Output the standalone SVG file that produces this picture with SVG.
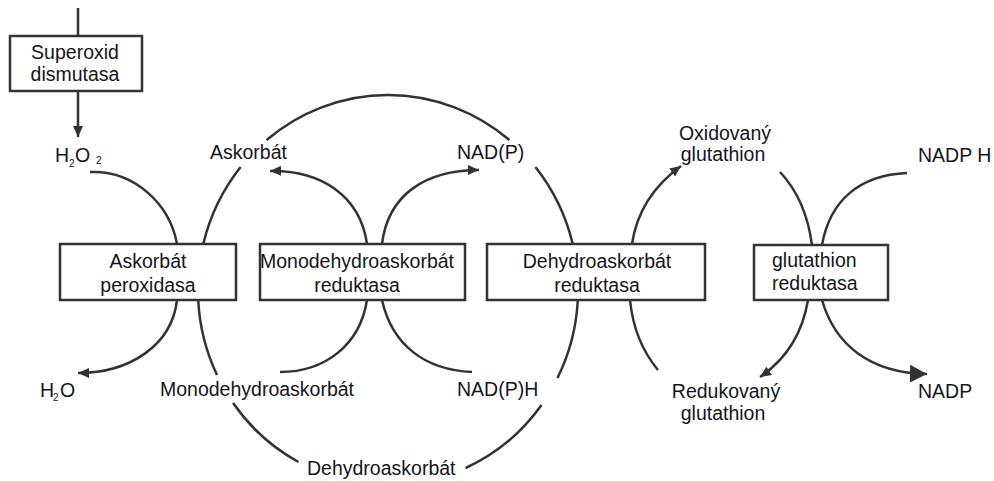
<svg xmlns="http://www.w3.org/2000/svg" width="994" height="481" viewBox="0 0 994 481">
<defs>
<style>
.box{fill:#fff;stroke:#333;stroke-width:2.5}
.ln{fill:none;stroke:#333;stroke-width:2.5}
text{font-family:"Liberation Sans",Arial,sans-serif;font-size:19.5px;fill:#151520}
.c{text-anchor:middle}
.sub{font-size:10px}
</style>
<marker id="a" markerUnits="userSpaceOnUse" markerWidth="12" markerHeight="10" refX="11" refY="5" orient="auto">
<path d="M0,0 L11,5 L0,10 z" fill="#333"/>
</marker>
<marker id="big" markerUnits="userSpaceOnUse" markerWidth="18" markerHeight="20" refX="17" refY="10" orient="auto">
<path d="M0,1 L17,10 L0,19 z" fill="#333"/>
</marker>
</defs>
<rect width="994" height="481" fill="#fff"/>

<g id="connectors">
<path class="ln" d="M78 8 V36"/>
<path class="ln" d="M78 91 V137" marker-end="url(#a)"/>
<path class="ln" d="M203.3 244 A190 195 0 0 1 240.6 167"/>
<path class="ln" d="M266.6 140 A190 195 0 0 1 509.4 140"/>
<path class="ln" d="M535.4 167 A190 195 0 0 1 572.7 244"/>
<path class="ln" d="M577.8 300 A190 195 0 0 1 557.5 378"/>
<path class="ln" d="M541.5 405 A190 195 0 0 1 465.6 468"/>
<path class="ln" d="M298.5 462 A190 195 0 0 1 233.1 403"/>
<path class="ln" d="M217 375 A190 195 0 0 1 198.2 300"/>
<path class="ln" d="M90 172 C135 170 170 205 177 244"/>
<path class="ln" d="M177 300 C172 345 130 373 78 373" marker-end="url(#a)"/>
<path class="ln" d="M367 244 C360 195 320 170 270 171" marker-end="url(#a)"/>
<path class="ln" d="M382 244 C388 195 425 170 479 170" marker-end="url(#a)"/>
<path class="ln" d="M367 300 C360 345 325 372 280 372"/>
<path class="ln" d="M382 300 C392 345 425 370 472 372"/>
<path class="ln" d="M632 244 C637 210 655 185 681 166" marker-end="url(#a)"/>
<path class="ln" d="M630 300 C633 330 643 352 658 370"/>
<path class="ln" d="M780 172 C797 190 808 215 812 245"/>
<path class="ln" d="M822 245 C830 200 860 175 907 173"/>
<path class="ln" d="M808 300 C803 330 788 358 760 377" marker-end="url(#a)"/>
<path class="ln" d="M822 300 C835 345 870 373 927 374" marker-end="url(#big)"/>
</g>

<g id="sod">
<rect class="box" x="10" y="36" width="132" height="55"/>
<text class="c" x="75" y="59">Superoxid</text>
<text class="c" x="75" y="81">dismutasa</text>
</g>
<g id="apx">
<rect class="box" x="60" y="244" width="176" height="56"/>
<text class="c" x="148" y="268">Askorbát</text>
<text class="c" x="148" y="292">peroxidasa</text>
</g>
<g id="mdhar">
<rect class="box" x="260" y="244" width="205" height="56"/>
<text class="c" x="357" y="268">Monodehydroaskorbát</text>
<text class="c" x="357" y="292">reduktasa</text>
</g>
<g id="dhar">
<rect class="box" x="487" y="244" width="218" height="56"/>
<text class="c" x="597" y="268">Dehydroaskorbát</text>
<text class="c" x="597" y="292">reduktasa</text>
</g>
<g id="gr">
<rect class="box" x="754" y="245" width="134" height="55"/>
<text x="772" y="267">glutathion</text>
<text x="772" y="290">reduktasa</text>
</g>

<g id="h2o2">
<text x="55" y="162">H</text>
<text class="sub" x="69" y="167">2</text>
<text x="75" y="162">O</text>
<text class="sub" x="96" y="164">2</text>
</g>
<g id="h2o">
<text x="40" y="397">H</text>
<text class="sub" x="53" y="401">2</text>
<text x="60" y="397">O</text>
</g>
<g id="askorbat"><text x="210" y="159">Askorbát</text></g>
<g id="nadp1"><text x="457" y="159">NAD(P)</text></g>
<g id="mda"><text x="160" y="396">Monodehydroaskorbát</text></g>
<g id="nadph1"><text x="457" y="396">NAD(P)H</text></g>
<g id="dha"><text x="307" y="475">Dehydroaskorbát</text></g>
<g id="gssg">
<text class="c" x="725" y="140">Oxidovaný</text>
<text class="c" x="723" y="161">glutathion</text>
</g>
<g id="gsh">
<text class="c" x="726" y="398">Redukovaný</text>
<text class="c" x="723" y="420">glutathion</text>
</g>
<g id="nadph2"><text x="918" y="162">NADP H</text></g>
<g id="nadp2"><text x="918" y="398">NADP</text></g>
</svg>
